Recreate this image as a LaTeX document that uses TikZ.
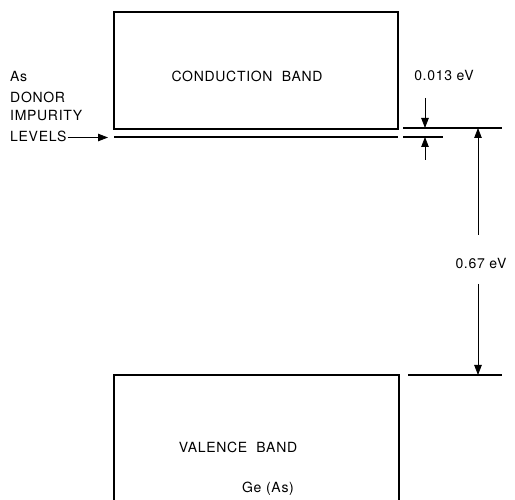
\documentclass[tikz,border=0pt]{standalone}
\usepackage{fontspec}
\setmainfont{TeX Gyre Heros}
\usetikzlibrary{arrows.meta}
\begin{document}
\begin{tikzpicture}[x=1pt,y=-1pt,
  lbl/.style={inner sep=0pt,font=\fontsize{14}{16}\selectfont\addfontfeatures{LetterSpace=5}},
  band/.style={draw,line width=1.3pt},
  lvl/.style={line width=1.3pt},
  dim/.style={line width=0.8pt,-{Triangle[length=10pt,width=7.5pt]}},
  ]
\useasboundingbox (0,0) rectangle (515,500);
% conduction band
\draw[band] (114,12) rectangle (398,129);
\node[lbl] (cb) at (247,76) {CONDUCTION\ \ BAND};
% donor level
\coordinate (dL) at (114,137);
\coordinate (dR) at (398,137);
\draw[lvl] (dL) -- (dR);
% left label
\node[lbl,anchor=west] (as) at (10,77) {As};
\node[lbl,anchor=west] (donor) at (10,97) {DONOR};
\node[lbl,anchor=west] (imp) at (10,116) {IMPURITY};
\node[lbl,anchor=west] (lev) at (10,136) {LEVELS};
\coordinate (levtip) at (108,137.5);
\draw[dim] (lev.east) ++(1,1.5) -- (levtip);
% valence band (cut at bottom)
\draw[band] (114,500) -- (114,375) -- (399,375) -- (399,500);
\node[lbl] (vb) at (238,447) {VALENCE\ \ BAND};
\node[lbl] (ge) at (268,489) {Ge (As)};
% reference levels on the right
\coordinate (cl1) at (403,128); \coordinate (cl2) at (502,128);
\coordinate (dl1) at (403,137); \coordinate (dl2) at (443,137);
\coordinate (vl1) at (408,375); \coordinate (vl2) at (502,375);
\draw[lvl] (cl1) -- (cl2);
\draw[lvl] (dl1) -- (dl2);
\draw[lvl] (vl1) -- (vl2);
% 0.013 eV
\node[lbl] (e1) at (444,76) {0.013 eV};
\coordinate (a1s) at (425,98); \coordinate (a1e) at (425,128);
\coordinate (a2s) at (425,160); \coordinate (a2e) at (425,137);
\draw[dim] (a1s) -- (a1e);
\draw[dim] (a2s) -- (a2e);
% 0.67 eV
\node[lbl] (e2) at (481,264) {0.67 eV};
\coordinate (b1s) at (478,235); \coordinate (b1e) at (478,128);
\coordinate (b2s) at (478,284); \coordinate (b2e) at (478,375);
\draw[dim] (b1s) -- (b1e);
\draw[dim] (b2s) -- (b2e);
\end{tikzpicture}
\end{document}
